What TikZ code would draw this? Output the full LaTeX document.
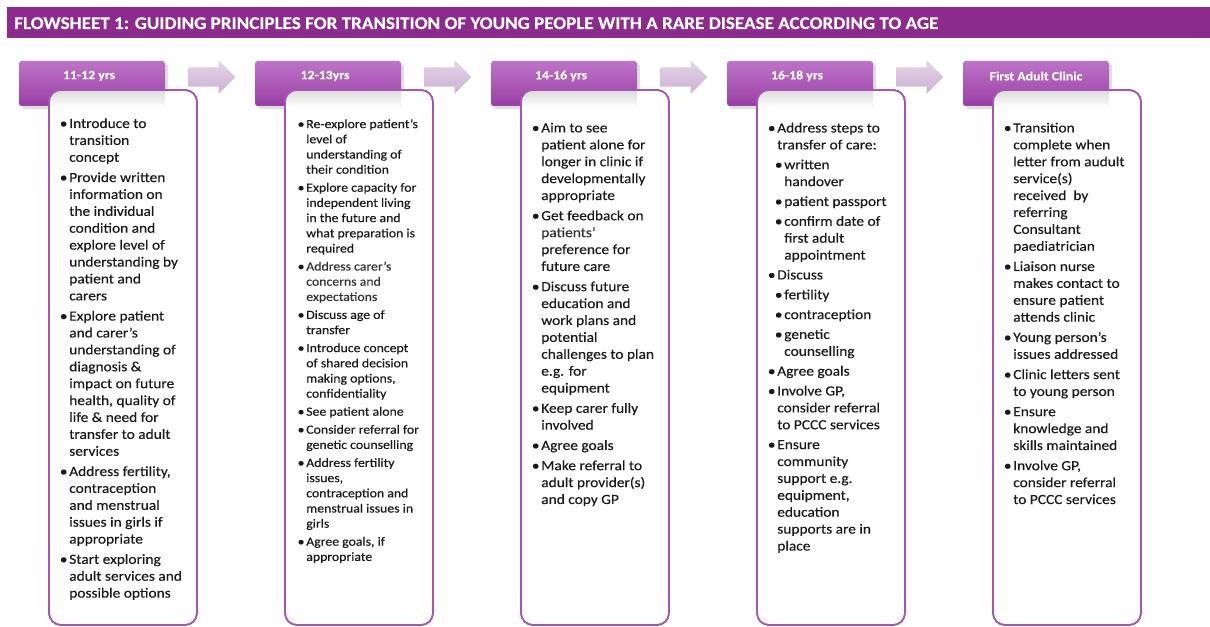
\documentclass[tikz,border=0pt]{standalone}
\usepackage{fontspec}
\setmainfont{Carlito}[FakeStretch=1.1,FakeBold=0.3]
\usepackage{tikz}
\usetikzlibrary{shapes.arrows,shadows}

\definecolor{barpurple}{HTML}{8C2A8D}
\definecolor{tabtop}{HTML}{BD74C7}
\definecolor{tabbot}{HTML}{9A3EA5}
\definecolor{edgepurple}{HTML}{A456B2}
\definecolor{lavtop}{HTML}{E3D4E7}
\definecolor{lavbot}{HTML}{CCB1D3}
\definecolor{inktext}{HTML}{1A1A1A}

\newcommand{\bul}{\llap{\textbullet\hspace{1.3pt}}}
\newcommand{\subb}{\hspace*{5.25pt}\bul}
\newcommand{\subl}{\hspace*{5.25pt}}

\tikzset{
  tab/.style={rounded corners=2pt, top color=tabtop, bottom color=tabbot, minimum width=109.5pt, minimum height=33.75pt, inner sep=0pt, drop shadow={opacity=0.25}},
  tabtext/.style={text=white, font=\fontsize{9.4}{11}\bfseries\selectfont, inner sep=0pt},
  panel/.style={draw=edgepurple, line width=1.2pt, rounded corners=9pt, fill=white, minimum width=111pt, minimum height=401.25pt, inner sep=0pt},
  flowarrow/.style={single arrow, single arrow head extend=5.25pt, single arrow head indent=0pt, minimum height=35.25pt, inner xsep=0pt, inner ysep=7.1pt, top color=lavtop, bottom color=lavbot, anchor=tail},
  body/.style={anchor=north west, align=left, inner sep=0pt, text=inktext, font=\fontsize{10.5}{12.675}\selectfont},
  smallbody/.style={body, font=\fontsize{9.4}{11.4}\selectfont}
}

\begin{document}
\begin{tikzpicture}[x=0.75pt,y=0.75pt,yscale=-1,xscale=1]
\useasboundingbox (0,0) rectangle (1210,627);
% title bar
\fill[barpurple] (7,7) rectangle (1210,38);
\node[anchor=base west, text=white, inner sep=0pt, font=\fontsize{13}{15}\bfseries\selectfont] (ttl) at (14,29) {\resizebox{693pt}{8.8pt}{FLOWSHEET 1: GUIDING PRINCIPLES FOR TRANSITION OF YOUNG PEOPLE WITH A RARE DISEASE ACCORDING TO AGE}};

% age tabs
\node[tab] (h1) at (92,83.5) {};
\node[tab] (h2) at (328,83.5) {};
\node[tab] (h3) at (564,83.5) {};
\node[tab] (h4) at (800,83.5) {};
\node[tab] (h5) at (1036,83.5) {};
\node[tabtext] (h1t) at (89,76) {11-12 yrs};
\node[tabtext] (h2t) at (325,76) {12-13yrs};
\node[tabtext] (h3t) at (561,76) {14-16 yrs};
\node[tabtext] (h4t) at (797,76) {16-18 yrs};
\node[tabtext] (h5t) at (1036,76) {First Adult Clinic};

% arrows between tabs
\node[flowarrow] (a1) at (188,77) {};
\node[flowarrow] (a2) at (424,77) {};
\node[flowarrow] (a3) at (660,77) {};
\node[flowarrow] (a4) at (896,77) {};

% panels
\node[panel] (b1) at (123,357.5) {};
\node[panel] (b2) at (359,357.5) {};
\node[panel] (b3) at (595,357.5) {};
\node[panel] (b4) at (831,357.5) {};
\node[panel] (b5) at (1067,357.5) {};

% shade under the tabs
\begin{scope}
\clip[rounded corners=9pt] (49,90) rectangle (197,625);
\shade[top color=black!14, bottom color=white] (49,90) rectangle (165,108);
\end{scope}
\begin{scope}
\clip[rounded corners=9pt] (285,90) rectangle (433,625);
\shade[top color=black!14, bottom color=white] (285,90) rectangle (401,108);
\end{scope}
\begin{scope}
\clip[rounded corners=9pt] (521,90) rectangle (669,625);
\shade[top color=black!14, bottom color=white] (521,90) rectangle (637,108);
\end{scope}
\begin{scope}
\clip[rounded corners=9pt] (757,90) rectangle (905,625);
\shade[top color=black!14, bottom color=white] (757,90) rectangle (873,108);
\end{scope}
\begin{scope}
\clip[rounded corners=9pt] (993,90) rectangle (1141,625);
\shade[top color=black!14, bottom color=white] (993,90) rectangle (1109,108);
\end{scope}
\draw[edgepurple, line width=1.2pt, rounded corners=9pt] (49,90) rectangle (197,625);
\draw[edgepurple, line width=1.2pt, rounded corners=9pt] (285,90) rectangle (433,625);
\draw[edgepurple, line width=1.2pt, rounded corners=9pt] (521,90) rectangle (669,625);
\draw[edgepurple, line width=1.2pt, rounded corners=9pt] (757,90) rectangle (905,625);
\draw[edgepurple, line width=1.2pt, rounded corners=9pt] (993,90) rectangle (1141,625);

% 11-12 yrs
\node[body] (t1) at (69,118) {\bul Introduce to\\
transition\\
concept\\[2.5pt]
\bul Provide written\\
information on\\
the individual\\
condition and\\
explore level of\\
understanding by\\
patient and\\
carers\\[2.5pt]
\bul Explore patient\\
and carer's\\
understanding of\\
diagnosis \&\\
impact on future\\
health, quality of\\
life \& need for\\
transfer to adult\\
services\\[2.5pt]
\bul Address fertility,\\
contraception\\
and menstrual\\
issues in girls if\\
appropriate\\[2.5pt]
\bul Start exploring\\
adult services and\\
possible options};

% 12-13yrs
\node[smallbody] (t2) at (306,119) {\bul Re-explore patient's\\
level of\\
understanding of\\
their condition\\[2.1pt]
\bul Explore capacity for\\
independent living\\
in the future and\\
what preparation is\\
required\\[2.1pt]
\bul \textcolor{black!80}{Address carer's}\\
\textcolor{black!80}{concerns and}\\
\textcolor{black!80}{expectations}\\[2.1pt]
\bul Discuss age of\\
transfer\\[2.1pt]
\bul Introduce concept\\
of shared decision\\
making options,\\
confidentiality\\[2.1pt]
\bul See patient alone\\[2.1pt]
\bul Consider referral for\\
genetic counselling\\[2.1pt]
\bul Address fertility\\
issues,\\
contraception and\\
menstrual issues in\\
girls\\[2.1pt]
\bul Agree goals, if\\
appropriate};

% 14-16 yrs
\node[body] (t3) at (541,122.5) {\bul Aim to see\\
patient alone for\\
longer in clinic if\\
developmentally\\
appropriate\\[2.5pt]
\bul Get feedback on\\
\textcolor{black!80}{patients'}\\
preference for\\
future care\\[2.5pt]
\bul Discuss future\\
education and\\
work plans and\\
potential\\
challenges to plan\\
e.g. for\\
equipment\\[2.5pt]
\bul Keep carer fully\\
involved\\[2.5pt]
\bul Agree goals\\[2.5pt]
\bul Make referral to\\
adult provider(s)\\
and copy GP};

% 16-18 yrs
\node[body] (t4) at (777,122.5) {\bul Address steps to\\
transfer of care:\\[2.2pt]
\subb written\\
\subl handover\\[2.2pt]
\subb patient passport\\[2.2pt]
\subb confirm date of\\
\subl first adult\\
\subl appointment\\[2.2pt]
\bul Discuss\\[2.2pt]
\subb fertility\\[2.2pt]
\subb contraception\\[2.2pt]
\subb genetic\\
\subl counselling\\[2.2pt]
\bul Agree goals\\[2.2pt]
\bul Involve GP,\\
consider referral\\
to PCCC services\\[2.2pt]
\bul Ensure\\
community\\
support e.g.\\
equipment,\\
education\\
supports are in\\
place};

% first adult clinic
\node[body] (t5) at (1013,122.5) {\bul Transition\\
complete when\\
letter from audult\\
service(s)\\
received~ by\\
referring\\
Consultant\\
paediatrician\\[2.5pt]
\bul Liaison nurse\\
makes contact to\\
ensure patient\\
attends clinic\\[2.5pt]
\bul Young person's\\
issues addressed\\[2.5pt]
\bul Clinic letters sent\\
to young person\\[2.5pt]
\bul Ensure\\
knowledge and\\
skills maintained\\[2.5pt]
\bul Involve GP,\\
consider referral\\
to PCCC services};
\end{tikzpicture}
\end{document}
